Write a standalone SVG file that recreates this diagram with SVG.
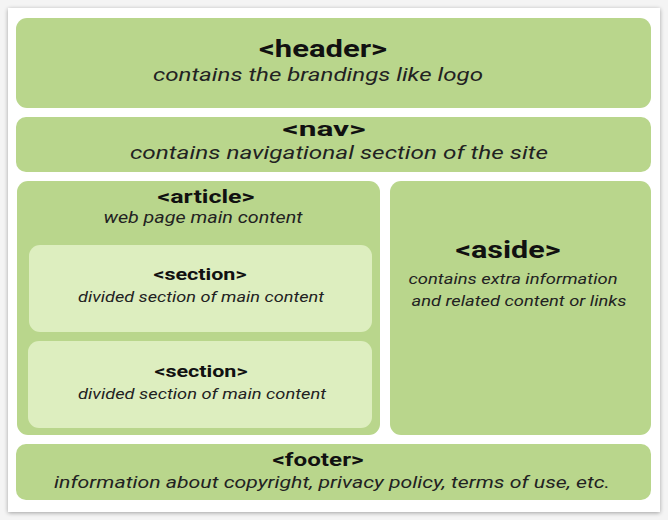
<svg xmlns="http://www.w3.org/2000/svg" width="668" height="520" viewBox="0 0 668 520">
<defs>
<filter id="sh" x="-5%" y="-5%" width="110%" height="110%"><feGaussianBlur in="SourceAlpha" stdDeviation="2"/><feOffset dx="0" dy="1"/><feComponentTransfer><feFuncA type="linear" slope="0.35"/></feComponentTransfer><feMerge><feMergeNode/><feMergeNode in="SourceGraphic"/></feMerge></filter>
</defs>
<style>
.box{fill:#b9d68c}
.sec{fill:#ddeebf}
.t{font-family:Roboto,"Liberation Sans",sans-serif;font-weight:bold;fill:#111;text-anchor:middle}
.s{font-family:Roboto,"Liberation Sans",sans-serif;font-style:italic;fill:#222;text-anchor:middle}
</style>
<rect width="668" height="520" fill="#f4f4f4"/>
<rect x="8" y="8" width="652" height="504" fill="#fff" filter="url(#sh)"/>
<g id="header">
<rect class="box" x="16" y="18" width="635" height="90" rx="11"/>
<text class="t" x="323" y="57" font-size="23" textLength="128" lengthAdjust="spacingAndGlyphs">&lt;header&gt;</text>
<text class="s" x="318" y="81" font-size="19" textLength="330" lengthAdjust="spacingAndGlyphs">contains the brandings like logo</text>
</g>
<g id="nav">
<rect class="box" x="16" y="117" width="635" height="55" rx="10"/>
<text class="t" x="324" y="135.5" font-size="21" textLength="83" lengthAdjust="spacingAndGlyphs">&lt;nav&gt;</text>
<text class="s" x="339" y="159" font-size="19" textLength="418" lengthAdjust="spacingAndGlyphs">contains navigational section of the site</text>
</g>
<g id="article">
<rect class="box" x="17" y="181" width="363" height="254" rx="11"/>
<text class="t" x="206" y="203" font-size="19" textLength="97" lengthAdjust="spacingAndGlyphs">&lt;article&gt;</text>
<text class="s" x="203" y="223" font-size="16" textLength="199" lengthAdjust="spacingAndGlyphs">web page main content</text>
</g>
<g id="section1">
<rect class="sec" x="29" y="245" width="343" height="87" rx="11"/>
<text class="t" x="200" y="280" font-size="17" textLength="93" lengthAdjust="spacingAndGlyphs">&lt;section&gt;</text>
<text class="s" x="201" y="302" font-size="15" textLength="246" lengthAdjust="spacingAndGlyphs">divided section of main content</text>
</g>
<g id="section2">
<rect class="sec" x="28" y="341" width="344" height="87" rx="11"/>
<text class="t" x="201" y="377" font-size="17" textLength="93" lengthAdjust="spacingAndGlyphs">&lt;section&gt;</text>
<text class="s" x="202" y="399" font-size="15" textLength="248" lengthAdjust="spacingAndGlyphs">divided section of main content</text>
</g>
<g id="aside">
<rect class="box" x="390" y="181" width="261" height="254" rx="11"/>
<text class="t" x="508" y="258" font-size="24" textLength="105" lengthAdjust="spacingAndGlyphs">&lt;aside&gt;</text>
<text class="s" x="513" y="284" font-size="15" textLength="209" lengthAdjust="spacingAndGlyphs">contains extra information</text>
<text class="s" x="519" y="306" font-size="15" textLength="215" lengthAdjust="spacingAndGlyphs">and related content or links</text>
</g>
<g id="footer">
<rect class="box" x="16" y="444" width="635" height="56" rx="10"/>
<text class="t" x="318" y="466" font-size="19" textLength="91" lengthAdjust="spacingAndGlyphs">&lt;footer&gt;</text>
<text class="s" x="332" y="488" font-size="17" textLength="556" lengthAdjust="spacingAndGlyphs">information about copyright, privacy policy, terms of use, etc.</text>
</g>
<g id="connectors"/>
</svg>
